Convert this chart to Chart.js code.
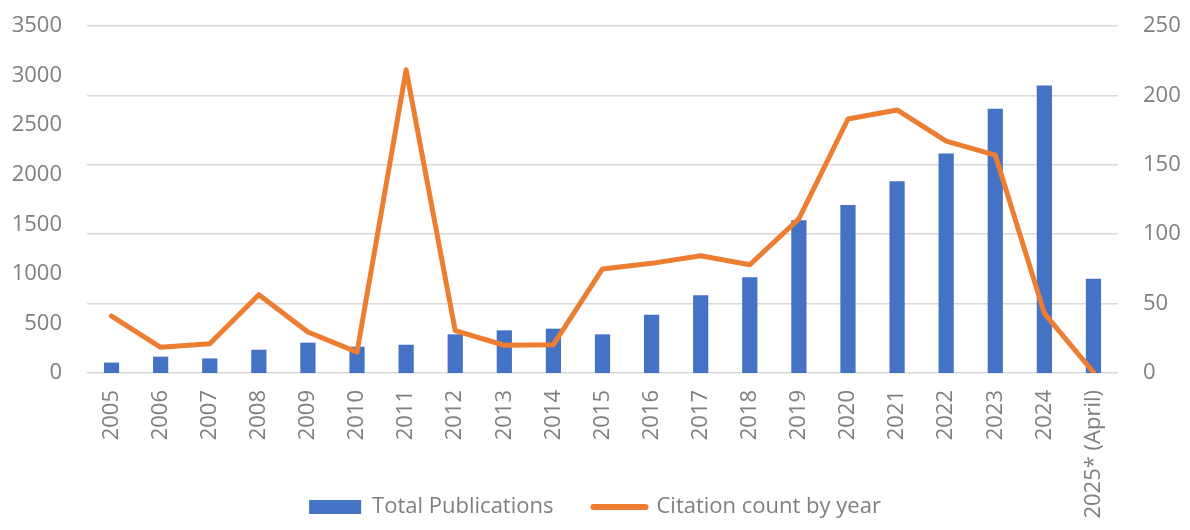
<!DOCTYPE html>
<html>
<head>
<meta charset="utf-8">
<script src="https://cdn.jsdelivr.net/npm/chart.js@4/dist/chart.umd.min.js"></script>
<style>
  html, body { margin: 0; padding: 0; background: #ffffff; }
  #wrap { width: 1190px; height: 530px; position: relative; }
</style>
</head>
<body>
<div id="wrap"><canvas id="c" width="1190" height="530"></canvas></div>
<script>
const categories = ["2005","2006","2007","2008","2009","2010","2011","2012","2013","2014","2015","2016","2017","2018","2019","2020","2021","2022","2023","2024","2025* (April)"];
const totalPublications = [105,165,147,235,306,265,285,390,430,447,390,588,783,965,1540,1695,1933,2215,2666,2901,951];
const citationCount = [41,18.5,21,56.4,29.5,15,218.5,30.5,20,20.4,75,79,84.5,78,111,183,189.5,167,157,43,0.5];
const leftTicks = [0,500,1000,1500,2000,2500,3000,3500];
const rightTicks = [0,50,100,150,200,250];

const textColor = '#7f7f7f';
const fontFamily = '"Open Sans", "Noto Sans", sans-serif';

// let the rotated category labels use the full height down to the canvas bottom
const extendXLabels = {
  id: 'extendXLabels',
  afterLayout(chart) {
    const x = chart.scales.x;
    x.bottom = chart.height;
    x.height = x.bottom - x.top;
  }
};

new Chart(document.getElementById('c'), {
  type: 'bar',
  plugins: [extendXLabels],
  data: {
    labels: categories,
    datasets: [
      {
        type: 'bar',
        label: 'Total Publications',
        data: totalPublications,
        backgroundColor: '#4472C4',
        borderWidth: 0,
        yAxisID: 'y',
        barPercentage: 0.31,
        categoryPercentage: 1.0,
        order: 2
      },
      {
        type: 'line',
        label: 'Citation count by year',
        data: citationCount,
        borderColor: '#ED7D31',
        backgroundColor: '#ED7D31',
        borderWidth: 5,
        borderCapStyle: 'round',
        borderJoinStyle: 'round',
        pointRadius: 0,
        tension: 0,
        yAxisID: 'y1',
        order: 1
      }
    ]
  },
  options: {
    responsive: false,
    animation: false,
    devicePixelRatio: 1,
    layout: { padding: { top: 26, left: 0, right: 0, bottom: 2 } },
    plugins: {
      tooltip: { enabled: false },
      legend: {
        position: 'bottom',
        labels: {
          usePointStyle: true,
          pointStyleWidth: 52,
          boxHeight: 14,
          padding: 40,
          color: textColor,
          font: { family: fontFamily, size: 22 },
          generateLabels: (chart) => chart.data.datasets.map((ds, i) => ({
            text: ds.label,
            fillStyle: ds.backgroundColor,
            strokeStyle: ds.type === 'line' ? ds.borderColor : 'rgba(0,0,0,0)',
            lineWidth: ds.type === 'line' ? 6 : 0,
            lineCap: 'round',
            pointStyle: ds.type === 'line' ? 'line' : 'rect',
            hidden: false,
            datasetIndex: i,
            fontColor: textColor
          }))
        }
      }
    },
    scales: {
      x: {
        grid: { display: false, drawTicks: false },
        border: { display: false },
        ticks: {
          autoSkip: false,
          maxRotation: 90,
          minRotation: 90,
          padding: 17,
          color: textColor,
          font: { family: fontFamily, size: 22 }
        },
        afterFit: (s) => { s.height = 83; }
      },
      y: {
        position: 'left',
        min: 0,
        max: 3500,
        afterBuildTicks: (s) => { s.ticks = leftTicks.map(v => ({ value: v })); },
        grid: { display: false, drawTicks: true, tickLength: 22 },
        border: { display: false },
        ticks: {
          padding: 3,
          color: textColor,
          font: { family: fontFamily, size: 22 },
          callback: (v) => String(v)
        },
        afterFit: (s) => { s.width = 87; }
      },
      y1: {
        position: 'right',
        min: 0,
        max: 250,
        afterBuildTicks: (s) => { s.ticks = rightTicks.map(v => ({ value: v })); },
        grid: { color: '#d9d9d9', lineWidth: 1.5, drawTicks: true, tickLength: 22, tickColor: 'rgba(0,0,0,0)' },
        border: { display: false },
        ticks: {
          padding: 3,
          color: textColor,
          font: { family: fontFamily, size: 22 },
          callback: (v) => String(v)
        },
        afterFit: (s) => { s.width = 72; }
      }
    }
  }
});
</script>
</body>
</html>
